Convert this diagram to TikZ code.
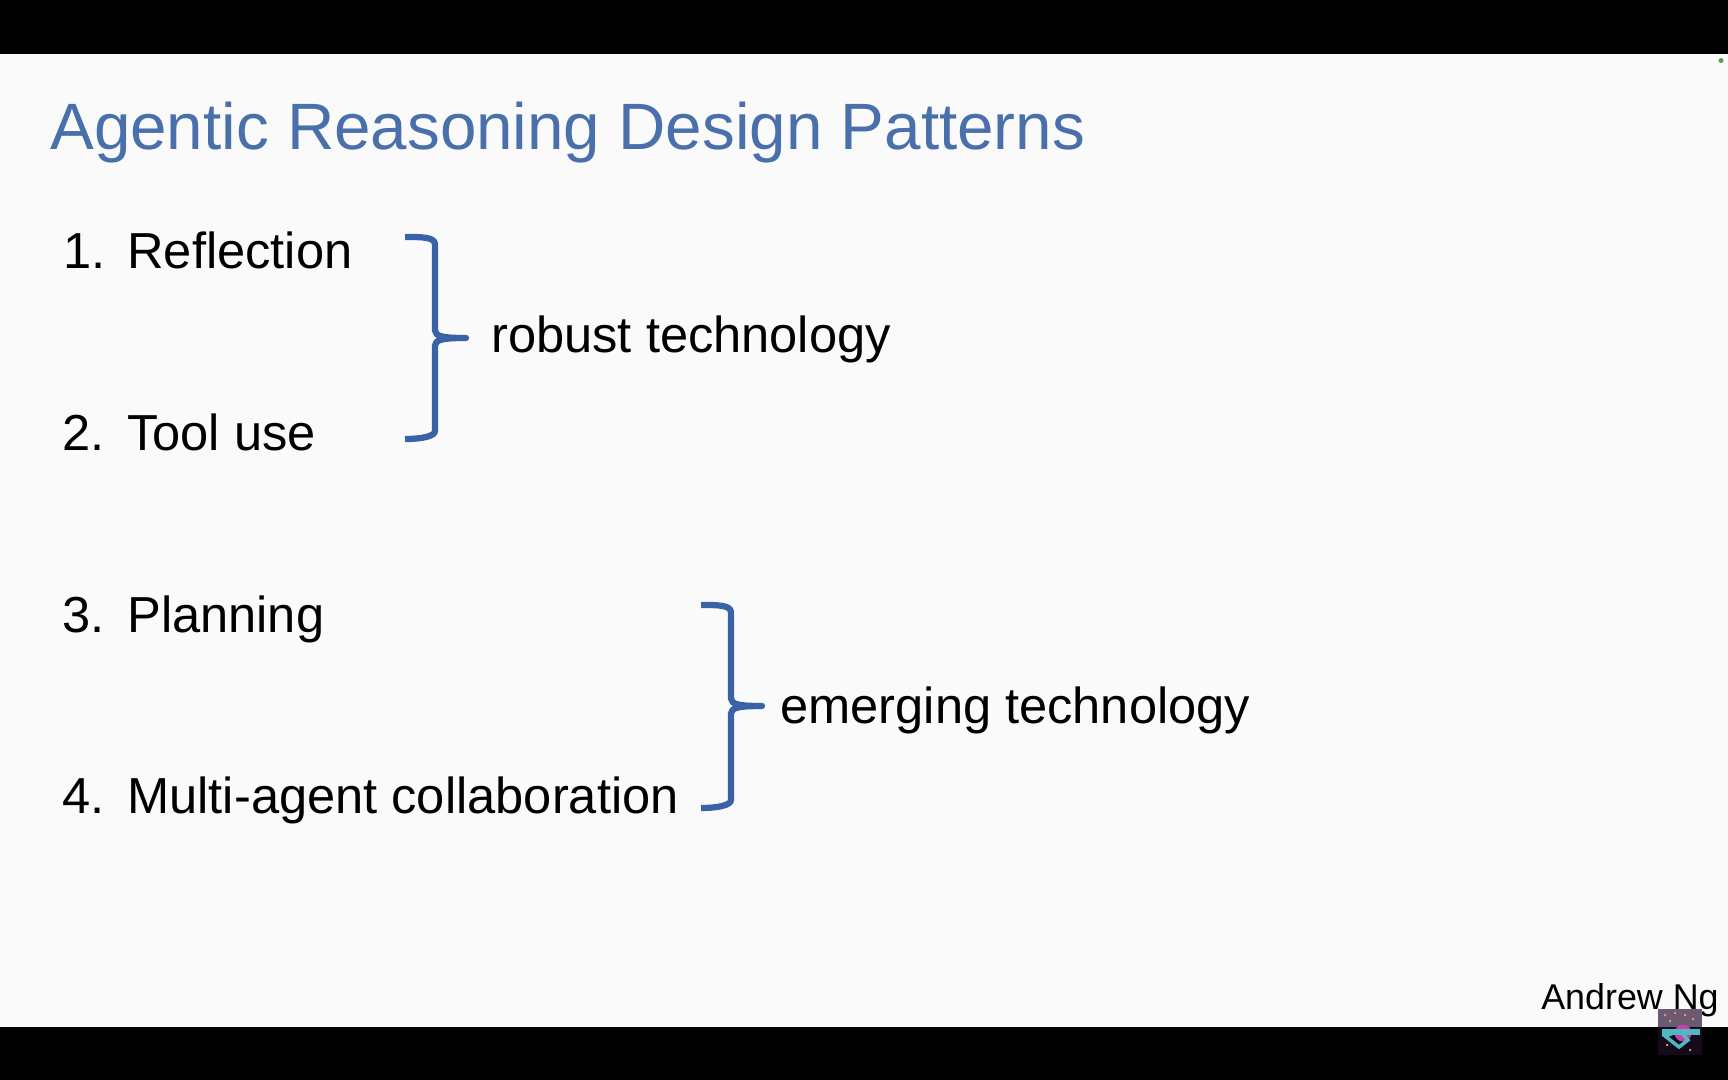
\documentclass[tikz,border=0pt]{standalone}
\usepackage{fontspec}
\setmainfont{Liberation Sans}
\usetikzlibrary{positioning}
\definecolor{slidebg}{HTML}{FAFAFA}
\definecolor{titleblue}{HTML}{4A70AB}
\definecolor{braceblue}{HTML}{3A62A7}
\definecolor{logotop}{HTML}{6B5A72}
\definecolor{logolow}{HTML}{140C1A}
\definecolor{logoteal}{HTML}{4FB8C0}
\definecolor{logopink}{HTML}{C83FA8}

\begin{document}
\begin{tikzpicture}[item/.style={anchor=base west,inner sep=0pt,font=\fontsize{28.8}{34}\selectfont},
  brace/.style={braceblue,line width=1.25mm,line join=round}]
\useasboundingbox (0,0) rectangle (34.56,-21.6);
\fill[slidebg] (0,0) rectangle (34.56,-21.6);
\fill[black] (0,0) rectangle (34.56,-1.08);
\fill[black] (0,-20.54) rectangle (34.56,-21.6);

\node[anchor=base west,inner sep=0pt,titleblue,font=\fontsize{37.3}{44}\selectfont](title) at (1.0,-3.0) {Agentic Reasoning Design Patterns};

\node[item](n1) at (1.26,-5.38) {1.};
\node[item](t1) at (2.54,-5.38) {Reflection};
\node[item](n2) at (1.24,-9.00) {2.};
\node[item](t2) at (2.54,-9.00) {Tool use};
\node[item](n3) at (1.24,-12.64) {3.};
\node[item](t3) at (2.54,-12.64) {Planning};
\node[item](n4) at (1.24,-16.26) {4.};
\node[item](t4) at (2.54,-16.26) {Multi-agent collaboration};

\node[item](robust) at (9.82,-7.06) {robust technology};
\node[item](emerging) at (15.60,-14.46) {emerging technology};

\coordinate (b1top) at (8.10,-4.74);
\coordinate (b1tip) at (9.32,-6.76);
\coordinate (b1bot) at (8.10,-8.78);
\coordinate (b2top) at (14.02,-12.10);
\coordinate (b2tip) at (15.24,-14.12);
\coordinate (b2bot) at (14.02,-16.16);

\draw[brace] (b1top) .. controls +(0.35,0) and +(0,0.15) .. ++(0.60,-0.15) -- ++(0,-1.72)
  .. controls +(0,-0.12) and +(-0.45,0) .. (b1tip)
  .. controls +(-0.45,0) and +(0,0.12) .. ++(-0.62,-0.15) -- (8.70,-8.62)
  .. controls +(0,-0.10) and +(0.35,0) .. (b1bot);
\draw[brace] (b2top) .. controls +(0.35,0) and +(0,0.15) .. ++(0.60,-0.15) -- ++(0,-1.72)
  .. controls +(0,-0.12) and +(-0.45,0) .. (b2tip)
  .. controls +(-0.45,0) and +(0,0.12) .. ++(-0.62,-0.15) -- (14.62,-16.00)
  .. controls +(0,-0.10) and +(0.35,0) .. (b2bot);

\node[anchor=base east,inner sep=0pt,font=\fontsize{20.4}{24}\selectfont](author) at (34.38,-20.18) {Andrew Ng};

% small logo, bottom right
\fill[logotop] (33.16,-20.18) rectangle (34.04,-20.54);
\fill[logolow] (33.16,-20.54) rectangle (34.04,-21.10);
\fill[logopink] (33.66,-20.66) circle (0.17);
\fill[logoteal] (33.24,-20.58) rectangle (34.00,-20.70);
\draw[logoteal,line width=.7mm] (33.30,-20.72) -- (33.60,-20.62) -- (33.76,-20.80) -- (33.58,-20.94) -- cycle;
\foreach \x/\y in {33.3/-20.3,33.5/-20.26,33.7/-20.3,33.86/-20.38,33.4/-20.42,33.34/-20.9,33.8/-21.0}
  \fill[orange!70!white] (\x,\y) circle (0.025);

% green dot, top right
\fill[green!50!black!70!white] (34.42,-1.21) circle (0.05);
\end{tikzpicture}
\end{document}
